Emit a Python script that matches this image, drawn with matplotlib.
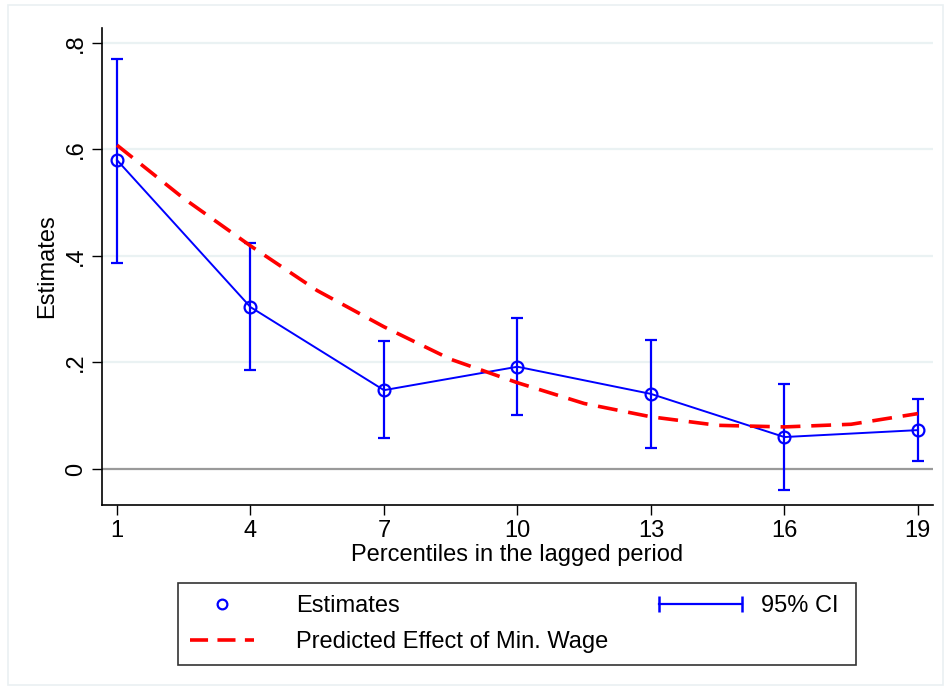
import matplotlib
matplotlib.use("Agg")
import matplotlib.pyplot as plt
from matplotlib.lines import Line2D
from matplotlib.legend_handler import HandlerLine2D
from matplotlib.patches import Rectangle

plt.rcParams['font.family'] = ['Liberation Sans', 'DejaVu Sans']

# ---- data ----
percentiles = [1, 4, 7, 10, 13, 16, 19]
estimates = [0.580, 0.304, 0.148, 0.192, 0.141, 0.060, 0.073]
ci_upper = [0.770, 0.424, 0.240, 0.284, 0.242, 0.160, 0.131]
ci_lower = [0.387, 0.186, 0.058, 0.101, 0.039, -0.039, 0.015]

pred_x = [1, 2.5, 4, 5.5, 7, 8.5, 10, 11.5, 13, 14.5, 16, 17.5, 19]
pred_y = [0.608, 0.508, 0.419, 0.335, 0.267, 0.206, 0.162, 0.123, 0.098, 0.082, 0.079, 0.084, 0.104]

xticks = [1, 4, 7, 10, 13, 16, 19]
yticks = [0, 0.2, 0.4, 0.6, 0.8]
ytick_labels = ['0', '.2', '.4', '.6', '.8']

W, H = 948, 690
fig = plt.figure(figsize=(W / 100, H / 100), dpi=100)
fig.patch.set_facecolor('white')
ax = fig.add_axes([102 / W, 1 - 505 / H, (933 - 102) / W, (505 - 28) / H])

# outer faint frame
fig.add_artist(Rectangle((8 / W, 1 - 685 / H), (943 - 8) / W, (685 - 5) / H,
                         transform=fig.transFigure, fill=False,
                         edgecolor='#eaf0f2', linewidth=1.2))

blue = '#0000ff'
red = '#ff0000'
FS = 17

# gridlines
for yv in yticks[1:]:
    ax.axhline(yv, color='#eaf2f3', linewidth=1.6, zorder=0)
ax.axhline(0, color='#9a9a9a', linewidth=1.6, zorder=1)

# CI
ax.errorbar(percentiles, estimates,
            yerr=[[e - l for e, l in zip(estimates, ci_lower)],
                  [u - e for u, e in zip(ci_upper, estimates)]],
            fmt='none', ecolor=blue, elinewidth=1.6, capsize=4.3, capthick=1.6, zorder=3)
# estimates line + markers
ax.plot(percentiles, estimates, color=blue, linewidth=1.4, zorder=4)
ax.plot(percentiles, estimates, linestyle='none', marker='o', markersize=8.5,
        markerfacecolor='none', markeredgecolor=blue, markeredgewidth=1.6, zorder=5)
# predicted
ax.plot(pred_x, pred_y, color=red, linewidth=2.6, dashes=(5.5, 3.0), zorder=4)

ax.set_xlim(0.663, 19.34)
ax.set_ylim(-0.0676, 0.828)
ax.set_xticks(xticks)
ax.set_xticklabels([str(t) for t in xticks])
ax.set_yticks(yticks)
ax.set_yticklabels(ytick_labels, rotation=90, va='center')
ax.tick_params(axis='both', labelsize=FS, length=7, width=1, color='black', pad=4)
for side in ['top', 'right']:
    ax.spines[side].set_visible(False)
for side in ['left', 'bottom']:
    ax.spines[side].set_linewidth(1.2)
ax.set_xlabel('Percentiles in the lagged period', fontsize=FS, labelpad=1)
ax.set_ylabel('Estimates', fontsize=FS, labelpad=5)

# legend (left column, framed)
h_est = Line2D([], [], linestyle='none', marker='o', markersize=7,
               markerfacecolor='none', markeredgecolor=blue, markeredgewidth=1.6)
h_pred = Line2D([], [], color=red, linewidth=2.6, dashes=(5.0, 2.6))
leg = fig.legend([h_est, h_pred],
                 ['Estimates', 'Predicted Effect of Min. Wage'],
                 ncol=1, loc='upper left',
                 bbox_to_anchor=(178 / W, 1 - 583 / H, (856 - 178) / W, 0),
                 mode='expand', borderaxespad=0, fontsize=FS, frameon=True,
                 fancybox=False, edgecolor='black', handlelength=2.7,
                 handletextpad=1.8, labelspacing=0.6, borderpad=0.5,
                 handler_map={h_est: HandlerLine2D(numpoints=1)})
leg.get_frame().set_linewidth(1.2)

# legend (CI entry, right column)
h_ci = Line2D([], [], color=blue, linewidth=1.6, marker='|', markersize=11,
              markeredgewidth=1.8)
leg2 = fig.legend([h_ci], ['95% CI'], loc='center left',
                  bbox_to_anchor=(652 / W, 1 - 606 / H), borderaxespad=0,
                  borderpad=0, fontsize=FS, frameon=False, handlelength=4.1,
                  handletextpad=0.5,
                  handler_map={h_ci: HandlerLine2D(numpoints=2)})

fig.savefig('out.png', dpi=100, facecolor='white')
